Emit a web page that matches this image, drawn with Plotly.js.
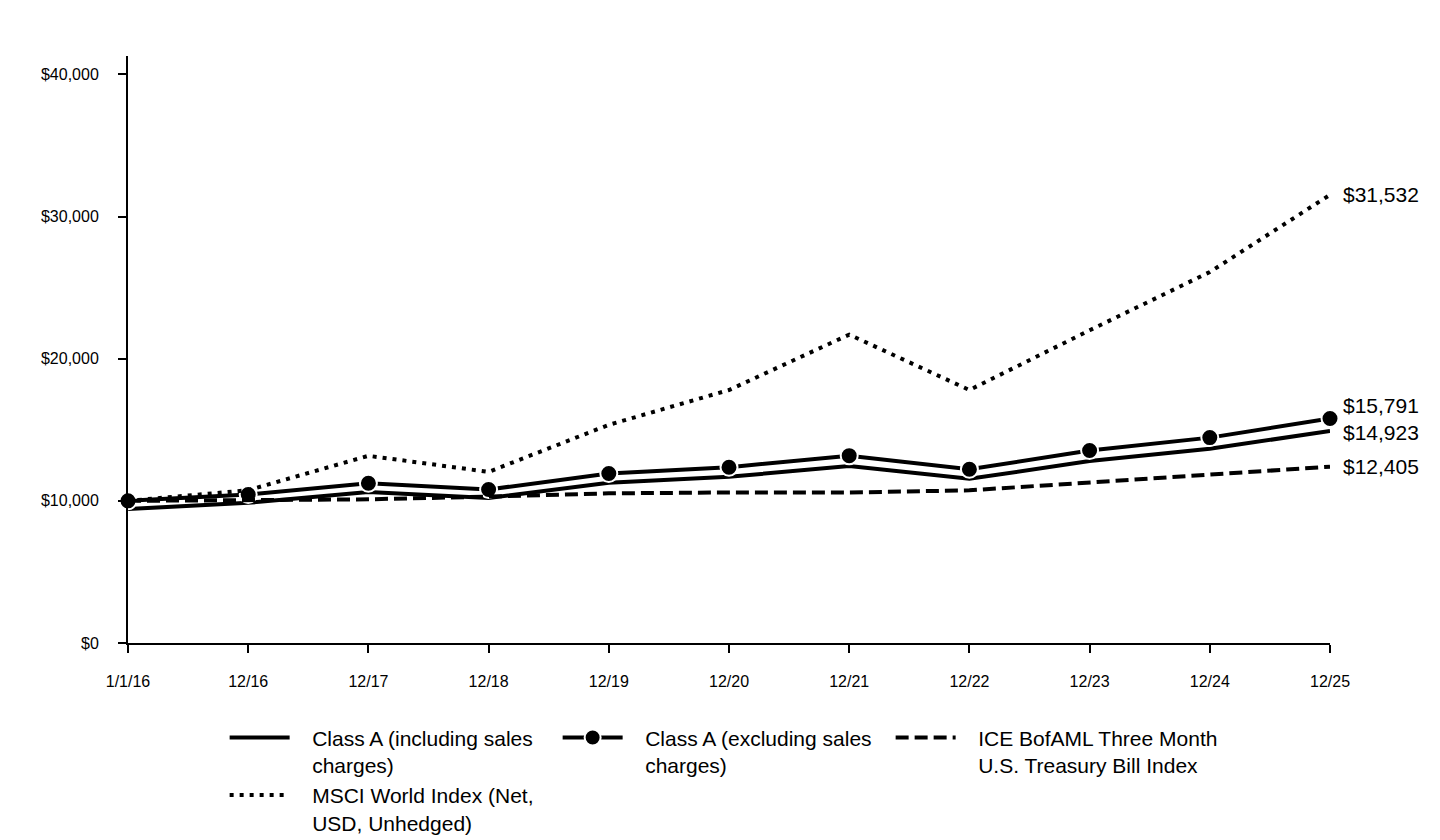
<!DOCTYPE html>
<html>
<head>
<meta charset="utf-8">
<script src="https://cdn.plot.ly/plotly-3.0.1.min.js"></script>
<style>html,body{margin:0;padding:0;background:#fff;}#chart{width:1440px;height:840px;}</style>
</head>
<body>
<div id="chart"></div>
<script>
const periods = ['1/1/16','12/16','12/17','12/18','12/19','12/20','12/21','12/22','12/23','12/24','12/25'];
const classAIncl = [9425, 9860, 10630, 10200, 11270, 11690, 12460, 11550, 12800, 13660, 14923];
const classAExcl = [10000, 10440, 11240, 10800, 11930, 12370, 13180, 12220, 13540, 14450, 15791];
const iceTBill   = [10000, 10030, 10110, 10300, 10530, 10590, 10590, 10740, 11300, 11900, 12405];
const msciWorld  = [10000, 10750, 13170, 12040, 15350, 17800, 21700, 17800, 22000, 26100, 31532];
const seriesNames = [
  'Class A (including sales<br>charges)',
  'Class A (excluding sales<br>charges)',
  'ICE BofAML Three Month<br>U.S. Treasury Bill Index',
  'MSCI World Index (Net,<br>USD, Unhedged)'
];
const yTicks = [0, 10000, 20000, 30000, 40000];

const FONT = 'Liberation Sans, Arial, sans-serif';
const xIdx = periods.map((_, i) => i);
const pad = '\u00a0\u00a0\u00a0';
const legendName = s => s.split('<br>').map(p => pad + p).join('<br>');

const traces = [
  {x: xIdx, y: classAIncl, name: legendName(seriesNames[0]), mode: 'lines', type: 'scatter',
   line: {color: '#000', width: 4}, cliponaxis: false},
  {x: xIdx, y: classAExcl, name: legendName(seriesNames[1]), mode: 'lines+markers', type: 'scatter',
   line: {color: '#000', width: 4}, marker: {size: 17, color: '#000', line: {color: '#fff', width: 2}}, cliponaxis: false},
  {x: xIdx, y: iceTBill, name: legendName(seriesNames[2]), mode: 'lines', type: 'scatter',
   line: {color: '#000', width: 4, dash: '13px,6px'}, cliponaxis: false},
  {x: xIdx, y: msciWorld, name: legendName(seriesNames[3]), mode: 'lines', type: 'scatter',
   line: {color: '#000', width: 4, dash: '4px,6px'}, cliponaxis: false}
];

const endSeries = [
  {v: msciWorld, shift: 0},
  {v: classAExcl, shift: 13},
  {v: classAIncl, shift: -2},
  {v: iceTBill, shift: 0}
];
const annotations = endSeries.map(s => ({
  x: xIdx[xIdx.length - 1], y: s.v[s.v.length - 1], xref: 'x', yref: 'y',
  text: '$' + s.v[s.v.length - 1].toLocaleString('en-US'),
  showarrow: false, xanchor: 'left', yanchor: 'middle', xshift: 11, yshift: s.shift,
  font: {family: FONT, size: 21, color: '#000'}
}));

const layout = {
  width: 1440, height: 840,
  margin: {l: 128, r: 110, t: 56, b: 197},
  paper_bgcolor: '#fff', plot_bgcolor: '#fff',
  font: {family: FONT, color: '#000'},
  showlegend: true,
  legend: {
    orientation: 'h', xref: 'container', yref: 'container',
    x: 0.156, xanchor: 'left', y: 0.146, yanchor: 'top',
    font: {family: FONT, size: 21, color: '#000'},
    entrywidth: 258, entrywidthmode: 'pixels', itemwidth: 60,
    traceorder: 'normal', valign: 'top', bgcolor: 'rgba(0,0,0,0)'
  },
  xaxis: {
    type: 'linear', range: [0, 10], tickvals: xIdx, ticktext: periods,
    showline: true, linecolor: '#000', linewidth: 2,
    ticks: 'outside', ticklen: 8, tickwidth: 2, tickcolor: '#000',
    showgrid: false, zeroline: false,
    tickfont: {family: FONT, size: 16, color: '#000'},
    ticklabelstandoff: 15
  },
  yaxis: {
    range: [0, 41300], tickvals: yTicks, tickformat: '$,.0f',
    showline: true, linecolor: '#000', linewidth: 2,
    ticks: 'outside', ticklen: 8, tickwidth: 2, tickcolor: '#000',
    showgrid: false, zeroline: false,
    tickfont: {family: FONT, size: 16, color: '#000'},
    ticklabelstandoff: 16
  },
  annotations: annotations
};

Plotly.newPlot('chart', traces, layout, {displayModeBar: false, staticPlot: true});
</script>
</body>
</html>
